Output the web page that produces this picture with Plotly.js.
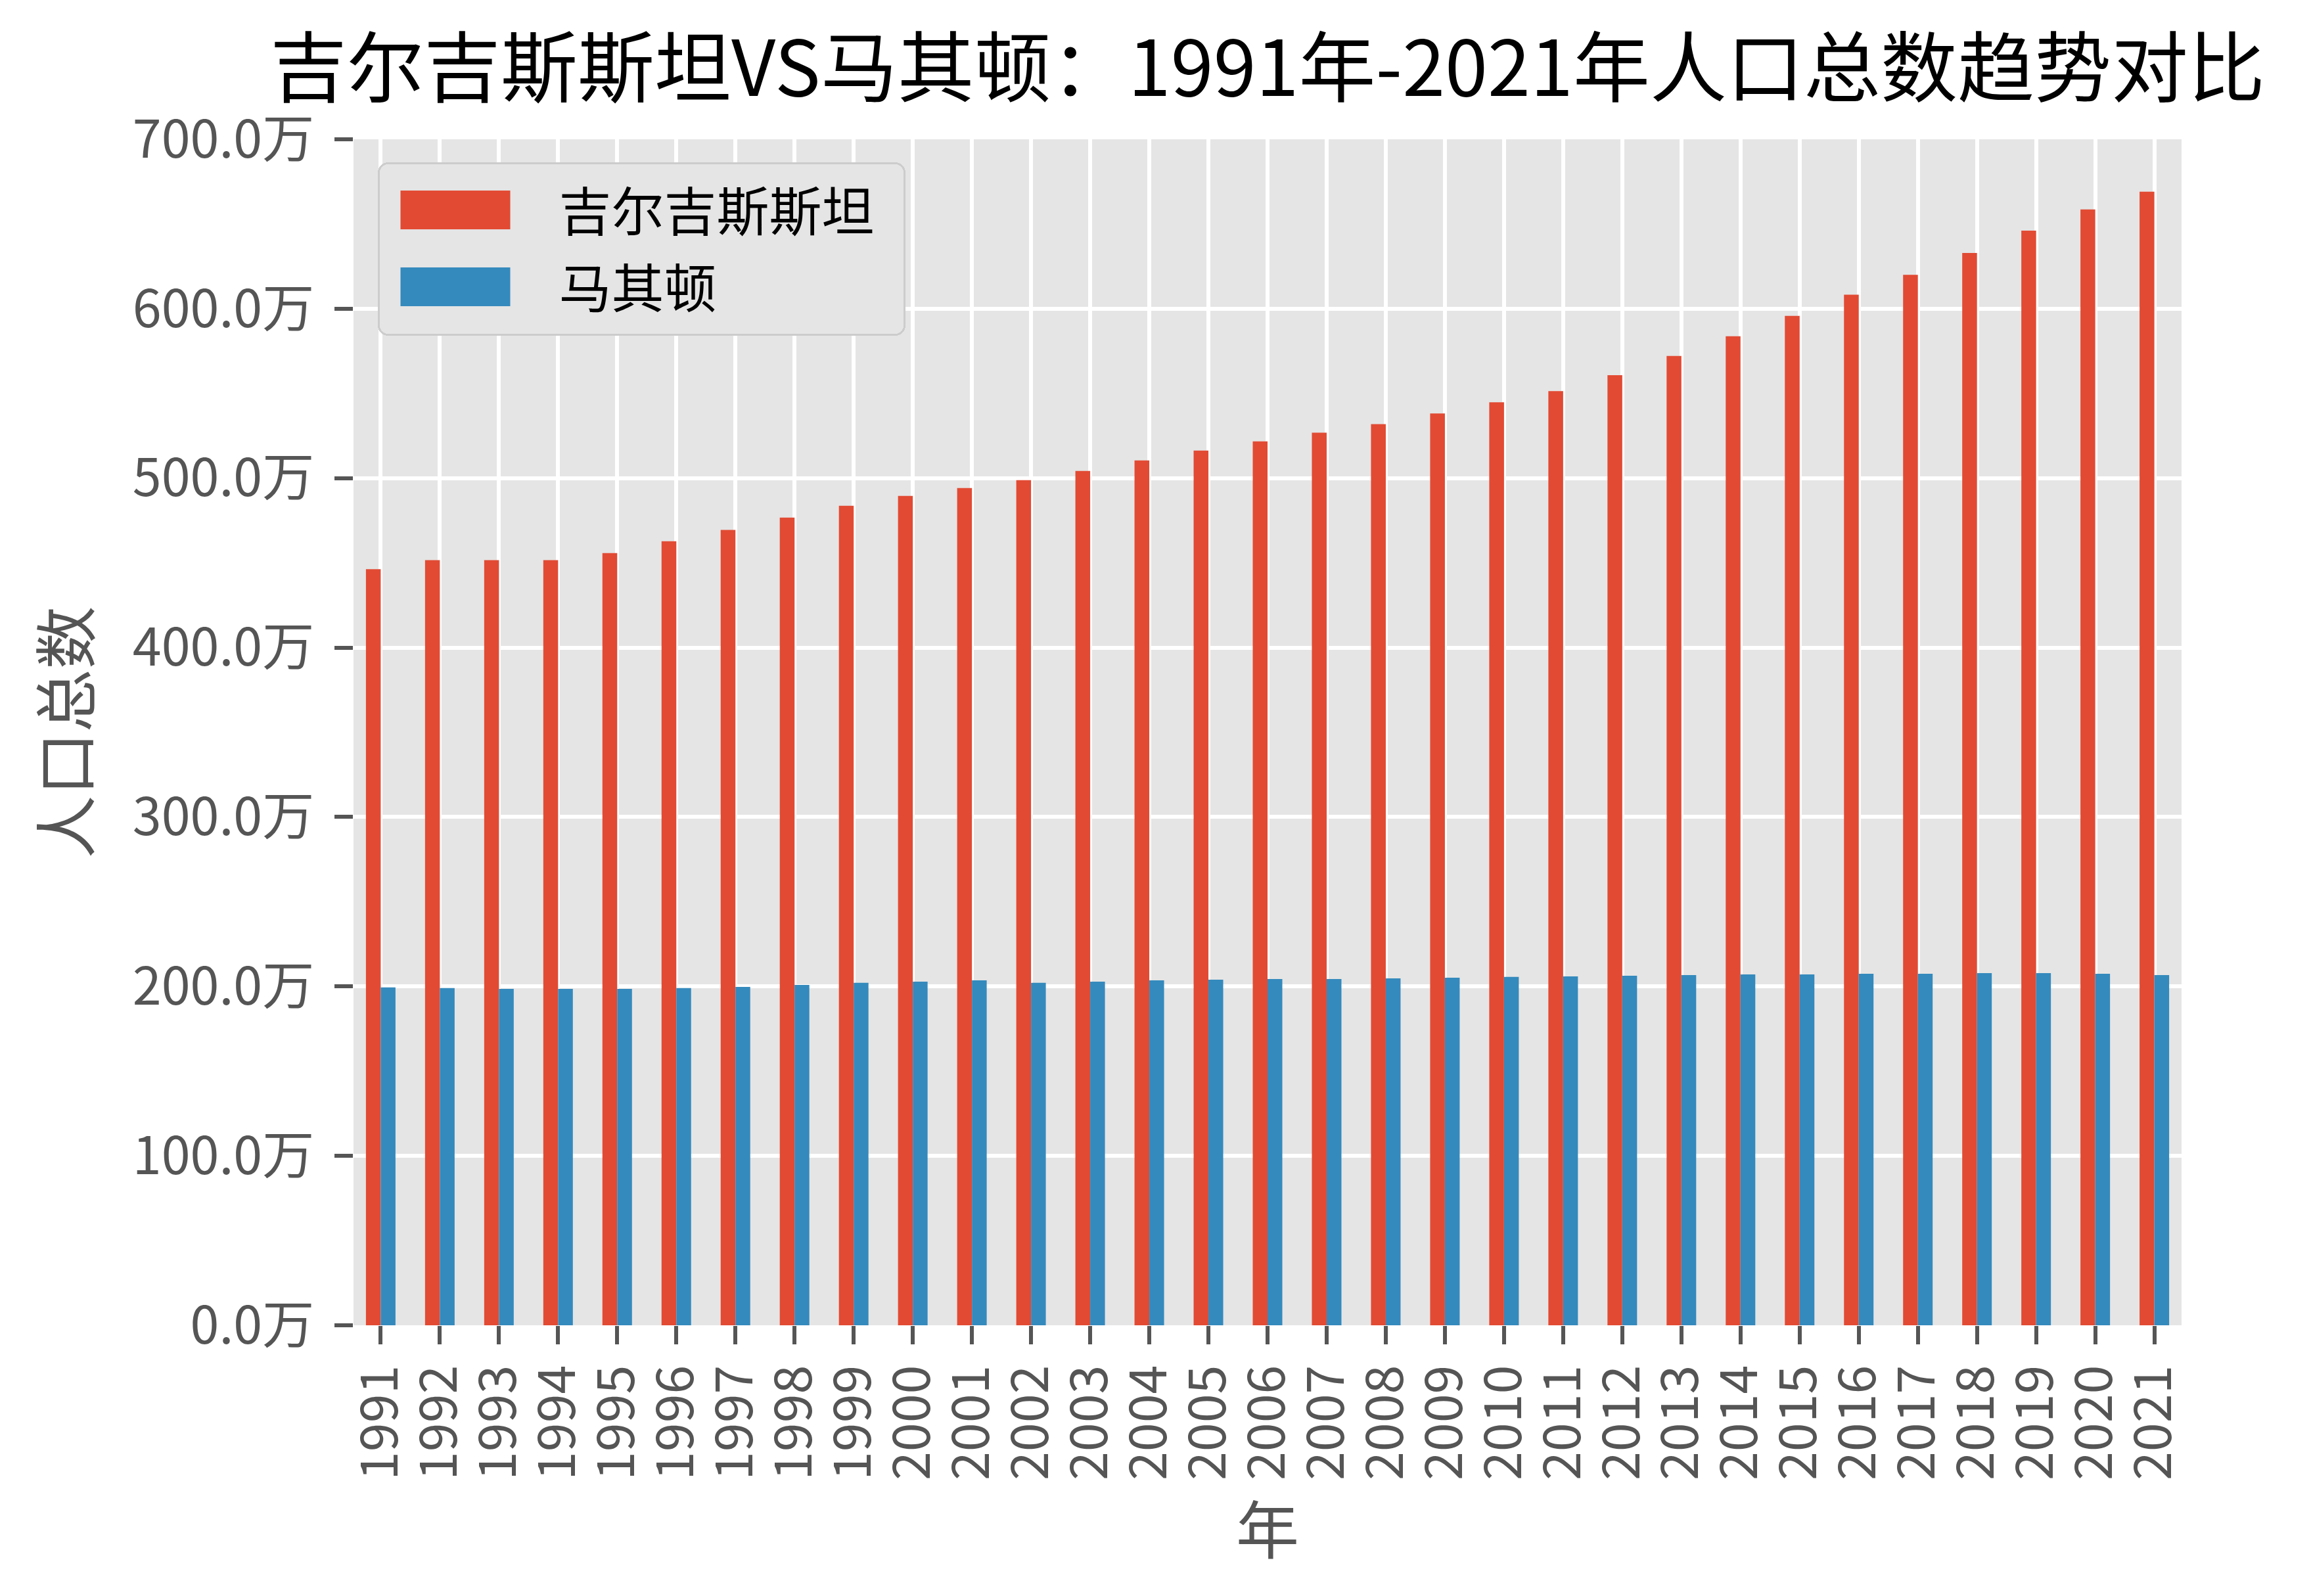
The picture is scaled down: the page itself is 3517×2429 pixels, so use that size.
<!DOCTYPE html>
<html>
<head>
<meta charset="utf-8">
<script src="https://cdn.plot.ly/plotly-3.0.1.min.js"></script>
<style>
html,body{margin:0;padding:0;background:#ffffff;}
#chart{width:3517px;height:2429px;}
</style>
</head>
<body>
<div id="chart"></div>
<script>
// ---- data (values in 万 people) ----
const years = ['1991','1992','1993','1994','1995','1996','1997','1998','1999','2000',
               '2001','2002','2003','2004','2005','2006','2007','2008','2009','2010',
               '2011','2012','2013','2014','2015','2016','2017','2018','2019','2020','2021'];
const kyrgyzstan = [446.3, 451.6, 451.6, 451.6, 455.8, 462.8, 469.4, 476.7, 483.7, 489.5,
                    494.2, 498.8, 504.3, 510.5, 516.3, 521.7, 526.8, 531.9, 538.2, 544.8,
                    551.4, 560.8, 572.1, 583.8, 595.8, 608.3, 620.0, 632.9, 646.1, 658.6, 669.1];
const macedonia = [199.4, 199.0, 198.6, 198.6, 198.6, 199.0, 199.7, 200.9, 202.1, 202.8,
                   203.6, 202.1, 202.8, 203.6, 204.0, 204.4, 204.4, 204.8, 205.2, 205.6,
                   205.9, 206.3, 206.7, 207.1, 207.1, 207.5, 207.5, 207.9, 207.9, 207.5, 206.7];
const seriesNames = ['吉尔吉斯斯坦', '马其顿'];
const yTickVals = [0, 100, 200, 300, 400, 500, 600, 700];
const yTickText = ['0.0万', '100.0万', '200.0万', '300.0万', '400.0万', '500.0万', '600.0万', '700.0万'];
const titleText = '吉尔吉斯斯坦VS马其顿：1991年-2021年人口总数趋势对比';
const xTitleText = '年';
const yTitleText = '人口总数';

// ---- style ----
const FONT = '"Noto Sans CJK SC", "Noto Sans", sans-serif';
const RED = '#E24A33', BLUE = '#348ABD', GREY = '#555555';

const data = [
  {type:'bar', x: years, y: kyrgyzstan, name: seriesNames[0], legendgroup:'a',
   marker:{color: RED, line:{width:0}}},
  {type:'bar', x: years, y: macedonia, name: seriesNames[1], legendgroup:'b',
   marker:{color: BLUE, line:{width:0}}}
];

const layout = {
  width: 3517, height: 2429,
  paper_bgcolor: '#ffffff', plot_bgcolor: '#E5E5E5',
  margin: {l: 538, r: 197, t: 212, b: 412, pad: 0},
  barmode: 'group', bargap: 0.5, bargroupgap: 0,
  font: {family: FONT, color: GREY, size: 79},
  title: {text: titleText, font: {family: FONT, size: 117, color: '#000000'},
          x: 0.5, xref: 'paper', xanchor: 'center', y: 0.9568, yref: 'container', yanchor: 'middle'},
  xaxis: {type: 'category', range: [-0.46, 30.46], tickangle: -90,
          tickmode: 'array', tickvals: years, ticktext: years,
          ticks: 'outside', ticklen: 28, tickwidth: 6, tickcolor: GREY,
          showgrid: true, gridcolor: '#ffffff', gridwidth: 6, zeroline: false, showline: false,
          tickfont: {family: FONT, size: 79, color: GREY},
          title: {text: xTitleText, font: {family: FONT, size: 96, color: GREY}, standoff: 14}},
  yaxis: {range: [0, 700], tickmode: 'array', tickvals: yTickVals, ticktext: yTickText,
          ticks: 'outside', ticklen: 28, tickwidth: 6, tickcolor: GREY, ticklabelstandoff: 15,
          showgrid: true, gridcolor: '#ffffff', gridwidth: 6, zeroline: false, showline: false,
          tickfont: {family: FONT, size: 79, color: GREY},
          title: {text: yTitleText, font: {family: FONT, size: 96, color: GREY}, standoff: 33}},
  showlegend: true,
  legend: {x: 0.0133, y: 0.9806, xref: 'paper', yref: 'paper', xanchor: 'left', yanchor: 'top',
           bgcolor: '#E5E5E5', bordercolor: '#CCCCCC', borderwidth: 3,
           font: {family: FONT, size: 80, color: '#000000'},
           itemwidth: 255, tracegroupgap: 0, traceorder: 'normal'}
};

// legend geometry (px)
const LEG_W = 800, LEG_H = 261, SW_W = 167, SW_H = 59, SW_LEFT = 33, TEXT_LEFT = 274,
      ROW0 = 71, ROW_STEP = 117;

const gd = document.getElementById('chart');

function fixLegend() {
  const leg = gd.querySelector('g.legend');
  if (!leg) return;
  const bg = leg.querySelector('rect.bg');
  if (!bg) return;
  bg.setAttribute('width', LEG_W);
  bg.setAttribute('height', LEG_H);
  bg.setAttribute('rx', 14);
  bg.setAttribute('ry', 14);
  leg.querySelectorAll('[clip-path]').forEach(function (e) { e.removeAttribute('clip-path'); });
  const bgr = bg.getBoundingClientRect();
  leg.querySelectorAll('g.traces').forEach(function (tr, i) {
    const t = tr.querySelector('text.legendtext');
    const p = tr.querySelector('.legendpoints path');
    if (!t || !p) return;
    p.setAttribute('d', 'M' + (SW_W/2) + ',' + (SW_H/2) + 'H' + (-SW_W/2) + 'V' + (-SW_H/2) + 'H' + (SW_W/2) + 'Z');
    p.setAttribute('transform', 'translate(0,0)');
    const m = /translate\(\s*([-\d.e]+)[\s,]+([-\d.e]+)\s*\)/.exec(tr.getAttribute('transform') || '');
    const tx = m ? parseFloat(m[1]) : 0, ty = m ? parseFloat(m[2]) : 0;
    let pr = p.getBoundingClientRect();
    const dy = (bgr.top + ROW0 + ROW_STEP * i) - (pr.top + pr.bottom) / 2;
    tr.setAttribute('transform', 'translate(' + tx + ',' + (ty + dy) + ')');
    pr = p.getBoundingClientRect();
    const dx = (bgr.left + SW_LEFT) - pr.left;
    p.setAttribute('transform', 'translate(' + dx + ',0)');
    const trc = t.getBoundingClientRect();
    const tdx = (bgr.left + TEXT_LEFT) - trc.left;
    t.setAttribute('x', (parseFloat(t.getAttribute('x')) || 0) + tdx);
  });
}

Plotly.newPlot(gd, data, layout, {staticPlot: true, displayModeBar: false}).then(function () {
  fixLegend();
  gd.on && gd.on('plotly_afterplot', fixLegend);
  let n = 0;
  const iv = setInterval(function () { fixLegend(); if (++n > 40) clearInterval(iv); }, 100);
});
</script>
</body>
</html>
